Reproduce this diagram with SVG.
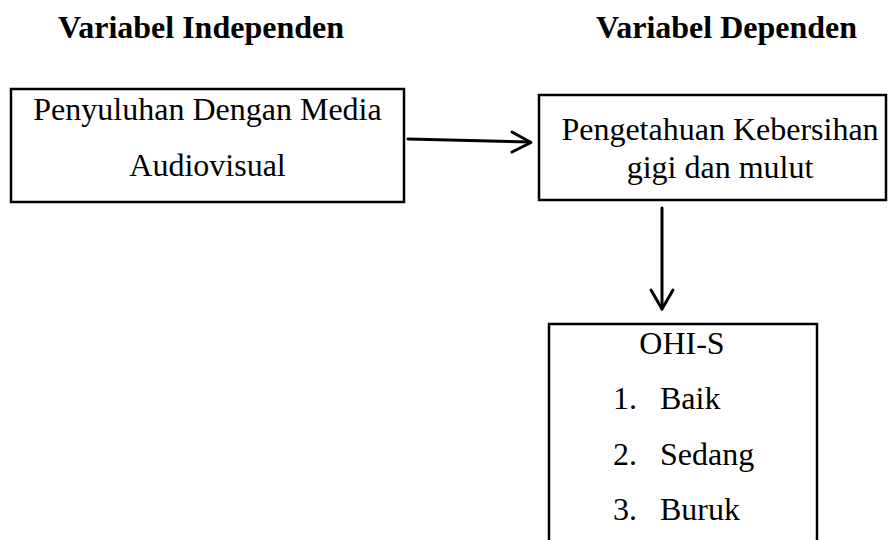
<svg xmlns="http://www.w3.org/2000/svg" width="888" height="540" viewBox="0 0 888 540">
<style>
text{font-family:'Times New Roman','Liberation Serif',Tinos,'Nimbus Roman','DejaVu Serif',serif;font-size:32px;fill:#000}
.b{font-weight:bold}
.box{fill:#fff;stroke:#000;stroke-width:2.5}
.c{fill:none;stroke:#000;stroke-width:3;stroke-linecap:round;stroke-linejoin:round}
</style>
<rect width="888" height="540" fill="#fff"/>
<text class="b" x="58" y="38">Variabel Independen</text>
<text class="b" x="596" y="38">Variabel Dependen</text>
<g id="node-penyuluhan">
<rect class="box" x="11" y="89" width="393" height="113"/>
<text x="207.5" y="120" text-anchor="middle">Penyuluhan Dengan Media</text>
<text x="207.5" y="176" text-anchor="middle">Audiovisual</text>
</g>
<g id="node-pengetahuan">
<rect class="box" x="539" y="95" width="347" height="105"/>
<text x="720" y="140" text-anchor="middle">Pengetahuan Kebersihan</text>
<text x="720" y="178" text-anchor="middle">gigi dan mulut</text>
</g>
<g id="node-ohis">
<rect class="box" x="549" y="324" width="268" height="240"/>
<text x="682" y="354" text-anchor="middle">OHI-S</text>
<text x="613" y="409">1.</text><text x="660" y="409">Baik</text>
<text x="613" y="465">2.</text><text x="660" y="465">Sedang</text>
<text x="613" y="520">3.</text><text x="660" y="520">Buruk</text>
</g>
<g id="connectors">
<path class="c" d="M408 139 L530 142"/>
<path class="c" d="M512 132 L531 142.5 L512 152"/>
<path class="c" d="M662 208 L662 309"/>
<path class="c" d="M651 290 L662 309 L673 290"/>
</g>
</svg>
